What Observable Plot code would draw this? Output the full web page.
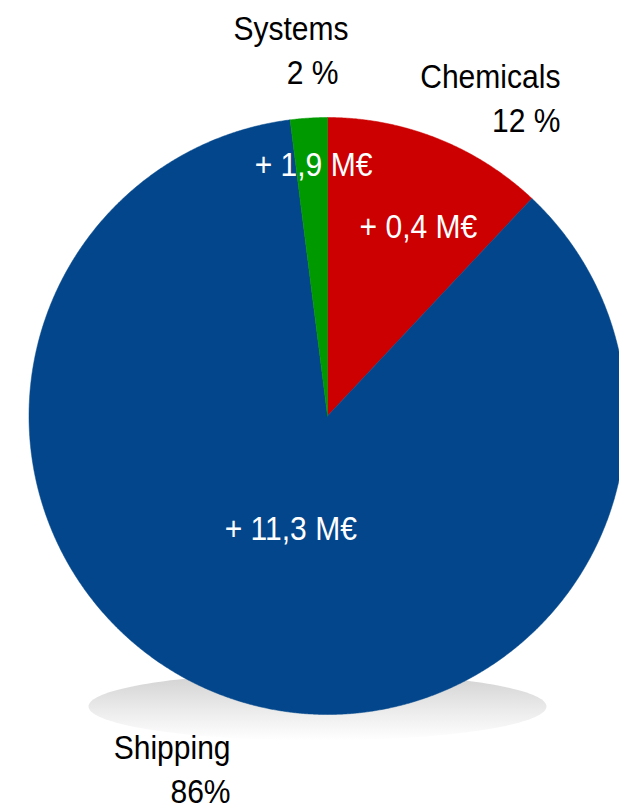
<!DOCTYPE html>
<html>
<head>
<meta charset="utf-8">
<script src="https://cdn.jsdelivr.net/npm/d3@7"></script>
<script src="https://cdn.jsdelivr.net/npm/@observablehq/plot@0.6"></script>
<style>
  html, body { margin: 0; padding: 0; background: #fff; overflow: hidden; }
</style>
</head>
<body>
<div id="chart"></div>
<script>
// ---- data (clockwise from 12 o'clock) ----
const categories = ["Chemicals", "Shipping", "Systems"];
const shares = [12, 86, 2];
const shareLabels = ["12 %", "86%", "2 %"];
const deltaLabels = ["+ 0,4 M€", "+ 11,3 M€", "+ 1,9 M€"];
const colors = ["#cc0000", "#03468b", "#009900"];

// ---- layout (polar placement: angle in degrees clockwise from top, radius in pie radii) ----
const innerPos = [[25.8, 0.70], [197.9, 0.40], [-3.2, 0.84]];
const outerPos = [[35.4, 1.347], [195.8, 1.193], [3.2, 1.263]];
const outerPctDx = [0, 0, -10];
const pctLineGap = 44;
const FONT = 33, SQUEEZE = 0.91;

const total = d3.sum(shares);
let acc = 0;
const slices = categories.map((c, i) => {
  const a0 = acc / total * 360;
  acc += shares[i];
  const a1 = acc / total * 360;
  return {category: c, a0, a1, share: shareLabels[i], delta: deltaLabels[i], i};
});

const rad = d => d * Math.PI / 180;
const polar = (deg, r) => ({x: r * Math.sin(rad(deg)), y: r * Math.cos(rad(deg))});

// slice outlines
const slicePts = [];
for (const s of slices) {
  slicePts.push({category: s.category, x: 0, y: 0});
  const n = Math.max(2, Math.ceil((s.a1 - s.a0) / 0.25));
  for (let k = 0; k <= n; k++) {
    const p = polar(s.a0 + (s.a1 - s.a0) * k / n, 1);
    slicePts.push({category: s.category, x: p.x, y: p.y});
  }
  slicePts.push({category: s.category, x: 0, y: 0});
}

// shadow ellipse below the pie (decorative)
const shadow = {cx: -0.0335, cy: -0.973, rx: 0.767, ry: 0.114};
const shadowPts = d3.range(0, 361, 2).map(t => ({
  x: shadow.cx + shadow.rx * Math.cos(rad(t)),
  y: shadow.cy + shadow.ry * Math.sin(rad(t))
}));

const innerLabels = slices.map(s => ({text: s.delta, ...polar(innerPos[s.i][0], innerPos[s.i][1])}));
const outerLabels = slices.map(s => ({name: s.category, pct: s.share, i: s.i, ...polar(outerPos[s.i][0], outerPos[s.i][1])}));

const defsMark = () => {
  const defs = document.createElementNS("http://www.w3.org/2000/svg", "defs");
  defs.innerHTML = `<linearGradient id="shadowGrad" x1="0" y1="0" x2="0" y2="1">
      <stop offset="0" stop-color="#d0d0d0"/>
      <stop offset="0.55" stop-color="#ebebeb"/>
      <stop offset="1" stop-color="#ffffff"/>
    </linearGradient>`;
  return defs;
};

const R = 298.5, CX = 327, CY = 415.5;

const chart = Plot.plot({
  width: 619,
  height: 806,
  margin: 0,
  style: {fontFamily: "'Liberation Sans', Arial, sans-serif", fontSize: FONT + "px", background: "#fff", overflow: "hidden"},
  x: {domain: [-1, 1], range: [CX - R, CX + R], axis: null},
  y: {domain: [-1, 1], range: [CY + R, CY - R], axis: null},
  color: {domain: categories, range: colors},
  marks: [
    defsMark,
    Plot.line(shadowPts, {x: "x", y: "y", fill: "url(#shadowGrad)", stroke: "none", curve: "linear"}),
    Plot.line(slicePts, {x: "x", y: "y", z: "category", fill: "category", stroke: "category", strokeWidth: 0.5, curve: "linear"}),
    Plot.text(innerLabels, {x: "x", y: "y", text: "text", fill: "white", textAnchor: "middle", lineAnchor: "middle", fontSize: FONT}),
    Plot.text(outerLabels, {x: "x", y: "y", text: "name", fill: "black", textAnchor: "end", lineAnchor: "bottom", fontSize: FONT}),
    Plot.text(outerLabels.filter(d => outerPctDx[d.i] === 0), {x: "x", y: "y", text: "pct", fill: "black", textAnchor: "end", lineAnchor: "bottom", dy: pctLineGap, fontSize: FONT}),
    Plot.text(outerLabels.filter(d => outerPctDx[d.i] !== 0), {x: "x", y: "y", text: "pct", fill: "black", textAnchor: "end", lineAnchor: "bottom", dy: pctLineGap, dx: -10, fontSize: FONT})
  ]
});
document.getElementById("chart").appendChild(chart);

// condense the glyphs horizontally (narrow sans look of the original)
chart.querySelectorAll("text").forEach(t => {
  const L = t.getComputedTextLength();
  if (L > 0) {
    t.setAttribute("textLength", (L * SQUEEZE).toFixed(1));
    t.setAttribute("lengthAdjust", "spacingAndGlyphs");
  }
});
</script>
</body>
</html>
